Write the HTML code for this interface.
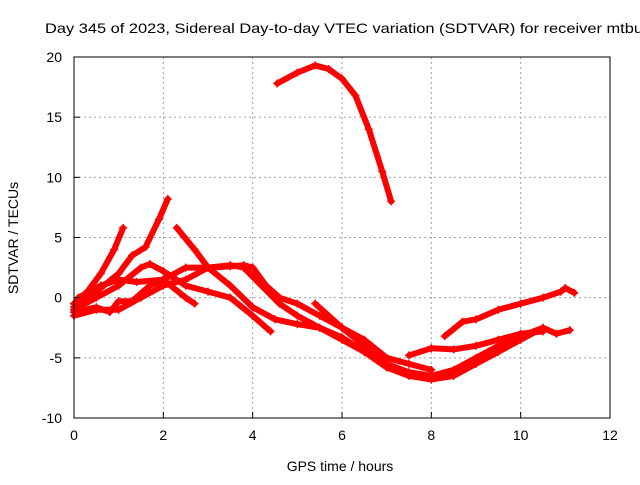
<!DOCTYPE html>
<html><head><meta charset="utf-8"><style>
body{margin:0;background:#fff}
svg text{font-family:"Liberation Sans",sans-serif;font-size:14px;fill:#000}
</style></head><body>
<svg id="chart" width="640" height="480" xmlns="http://www.w3.org/2000/svg">
<rect width="640" height="480" fill="#fff"/>
<text x="45" y="33" textLength="598" lengthAdjust="spacingAndGlyphs">Day 345 of 2023, Sidereal Day-to-day VTEC variation (SDTVAR) for receiver mtbu</text>
<g id="grid"></g><g id="series"></g><g id="axes"></g>
<text x="340" y="471" text-anchor="middle">GPS time / hours</text>
<text transform="translate(18,238) rotate(-90)" text-anchor="middle">SDTVAR / TECUs</text>
</svg>
<script>
const xTicks=[0,2,4,6,8,10,12];
const yTicks=[-10,-5,0,5,10,15,20];
const s1h=[4.55,5,5.4,5.7,6,6.3,6.6,6.9,7.1];
const s1v=[17.8,18.7,19.3,19,18.2,16.8,14,10.5,8];
const s2h=[0,0.3,0.6,0.9,1.1];
const s2v=[-0.5,0.5,2,4,5.8];
const s3h=[0,0.5,1,1.3,1.6,1.9,2.1];
const s3v=[-0.8,0.5,2,3.5,4.2,6.5,8.2];
const s4h=[2.3,2.7,3,3.5,4,4.5,5,5.5,6,6.5,7,7.5,8,8.5,9,9.5,10,10.5,10.8,11.1];
const s4v=[5.8,4,2.5,1,-0.8,-1.8,-2.2,-2.5,-3.3,-4.5,-5.8,-6.5,-6.8,-6.5,-5.5,-4.5,-3.5,-2.5,-3,-2.7];
const s5h=[0,0.5,1,1.5,1.7,2,2.5,3,3.5,4,4.4];
const s5v=[-1,0,1,2.5,2.8,2.2,1,0.5,0,-1.5,-2.8];
const s6h=[0,0.5,1,1.5,2,2.5,3,3.5,3.8,4.2,4.6,5,5.5,6,6.5];
const s6v=[-1.5,-1,-1,0,1,1.5,2.5,2.7,2.5,1,-0.5,-1.5,-2.5,-3.5,-4.5];
const s7h=[0,0.5,0.8,1,1.3,1.7,2,2.5,2.7];
const s7v=[-1.2,-0.8,-1.2,-0.3,-0.3,1,1.5,0,-0.5];
const s8h=[0.1,0.6,1,1.4,2,2.5,3,3.5,3.8,4,4.3,4.6,5,5.5,6,6.5,7,7.5,8,8.5,9,9.5,10,10.5];
const s8v=[0,1,1.5,1.3,1.5,2.5,2.5,2.6,2.7,2.5,1,0,-0.5,-1.5,-2.5,-4,-5.5,-6.2,-6.5,-6,-5,-4,-3.2,-2.5];
const s9h=[5.4,6,6.5,7,7.5,8];
const s9v=[-0.5,-2.5,-3.5,-5,-5.5,-6];
const s10h=[7.5,8,8.5,9,9.5,10,10.5];
const s10v=[-4.8,-4.2,-4.3,-4,-3.5,-3,-2.8];
const s11h=[8.3,8.7,9,9.5,10,10.5,10.9,11,11.2];
const s11v=[-3.2,-2,-1.8,-1,-0.5,0,0.5,0.8,0.4];
const seriesH=[s1h,s2h,s3h,s4h,s5h,s6h,s7h,s8h,s9h,s10h,s11h];
const seriesV=[s1v,s2v,s3v,s4v,s5v,s6v,s7v,s8v,s9v,s10v,s11v];
const L=74,R=610,T=57,B=418;
const X=h=>L+(h-0)/12*(R-L);
const Y=v=>B-(v+10)/30*(B-T);
const NS="http://www.w3.org/2000/svg";
function mk(tag,attrs,parent){const e=document.createElementNS(NS,tag);for(const k in attrs)e.setAttribute(k,attrs[k]);parent.appendChild(e);return e;}
const grid=document.getElementById('grid'),axes=document.getElementById('axes'),ser=document.getElementById('series');
xTicks.forEach(t=>{
  if(t>0&&t<12){const g=mk('line',{x1:X(t),x2:X(t),y1:T,y2:B,stroke:'#a0a0a0','stroke-dasharray':'2,3'},grid);
  
  }
  const tk=mk('line',{x1:X(t),x2:X(t),y1:B,y2:B-6,stroke:'#000'},axes);
  
  
  const tx=mk('text',{x:X(t),y:B+22,'text-anchor':'middle'},axes);tx.textContent=t;
  
  
});
yTicks.forEach(t=>{
  if(t>-10&&t<20){const g=mk('line',{x1:L,x2:R,y1:Y(t),y2:Y(t),stroke:'#a0a0a0','stroke-dasharray':'2,3'},grid);
  
  }
  const tk=mk('line',{x1:L,x2:L+6,y1:Y(t),y2:Y(t),stroke:'#000'},axes);
  
  
  const tx=mk('text',{x:L-12,y:Y(t)+5,'text-anchor':'end'},axes);tx.textContent=t;
  
  
});
const fr=mk('rect',{x:L,y:T,width:R-L,height:B-T,fill:'none',stroke:'#000'},axes);


seriesH.forEach((hs,i)=>{
  const vs=seriesV[i];
  const pts=hs.map((h,j)=>X(h)+','+Y(vs[j])).join(' ');
  const p=mk('polyline',{points:pts,fill:'none',stroke:'#ff0000','stroke-width':6,'stroke-linejoin':'round','stroke-linecap':'round'},ser);
  
  
  hs.forEach((h,j)=>{
    const c=mk('path',{d:`M${X(h)-4},${Y(vs[j])}h8M${X(h)},${Y(vs[j])-4}v8`,stroke:'#ff0000','stroke-width':1.5},ser);
    
    
  });
});
</script>
</body></html>
